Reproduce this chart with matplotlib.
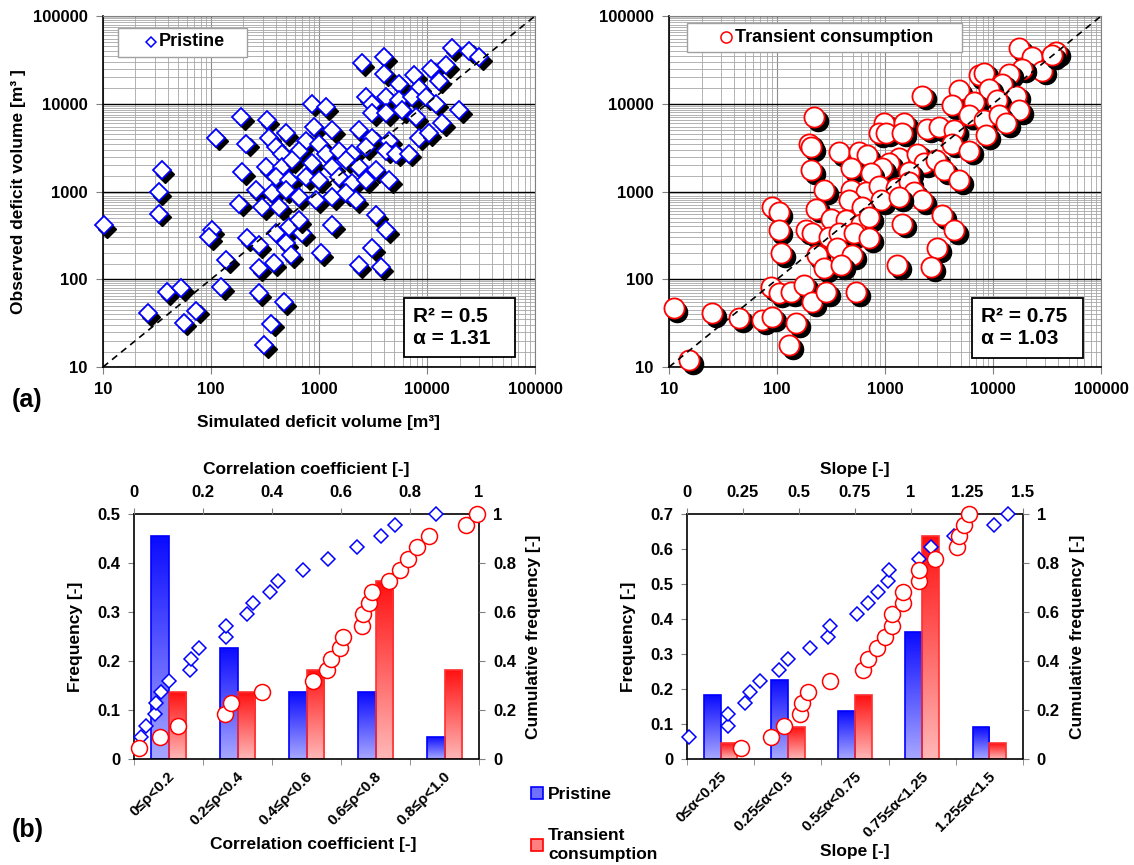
import matplotlib
matplotlib.use("Agg")
import matplotlib.pyplot as plt
import matplotlib.transforms as mtransforms
from matplotlib.colors import LinearSegmentedColormap
from matplotlib.patches import Patch, Rectangle
from matplotlib.ticker import LogLocator, NullFormatter, FuncFormatter, FixedLocator
import numpy as np

plt.rcParams['font.family'] = ['Liberation Sans', 'DejaVu Sans']
plt.rcParams['font.weight'] = 'bold'
plt.rcParams['axes.labelweight'] = 'bold'

# ---- (a) simulated vs observed deficit volumes [m3] ----
sim_pristine = [17000, 24500, 30300, 2500, 4000, 4000, 5500, 7600, 10900, 15000,
                8400, 12900, 2700, 3100, 4200, 5500, 7300, 9800, 12100, 19800,
                860, 1160, 3100, 4200, 5900, 7900, 13800, 190, 330, 111,
                211, 494, 344, 900, 1320, 2340, 3100, 4450, 8400, 10400,
                760, 1000, 400, 454, 650, 1160, 1530, 2020, 2700, 4200,
                5200, 6800, 35, 194, 323, 454, 560, 860, 1320, 1780,
                2340, 3370, 4450, 400, 530, 760, 1000, 1530, 2020, 2700,
                33, 261, 367, 494, 650, 940, 1320, 1780, 2200, 182,
                297, 427, 33, 10.2, 3370, 4200, 1320, 102, 96, 215,
                278, 400, 530, 700, 494, 650, 1040, 3100, 550, 383,
                278, 138, 2340, 3750, 124, 278, 474, 39, 53, 73,
                26, 56, 360, 310]
obs_pristine = [42700, 40400, 33700, 28800, 33700, 22100, 17000, 21000, 25200, 27300,
                15300, 18400, 11800, 10000, 11800, 10900, 11800, 11800, 10000, 8400,
                10000, 9100, 7800, 7800, 8400, 7000, 6000, 7000, 6500, 4100,
                3500, 4600, 4100, 5400, 5000, 5000, 4100, 3800, 4100, 4600,
                3800, 3500, 3200, 2700, 2900, 2700, 2900, 2700, 3200, 2900,
                2700, 2700, 1740, 1650, 1880, 1880, 2260, 2090, 1880, 2260,
                1880, 1740, 1340, 1450, 1340, 1450, 1340, 1450, 1240, 1340,
                980, 1030, 950, 1030, 860, 790, 860, 950, 790, 730,
                660, 660, 560, 410, 535, 360, 410, 360, 300, 292,
                243, 333, 390, 333, 256, 470, 197, 225, 187, 152,
                133, 164, 144, 137, 81, 69, 55, 71, 79, 44,
                41, 32, 31, 17.7]

sim_transient = [17400, 23000, 28400, 38300, 35200, 18600, 7400, 8300, 14100, 12100,
                 9200, 16300, 4800, 2200, 4200, 6700, 10900, 17400, 6000, 8300,
                 11400, 13200, 220, 198, 207, 207, 980, 1500, 880, 1020,
                 1440, 2450, 3160, 4350, 8600, 4200, 6000, 375, 574, 680,
                 1350, 1980, 1090, 940, 2300, 2970, 484, 740, 1670, 3520,
                 4840, 272, 484, 667, 880, 1260, 1670, 1860, 2200, 920,
                 1350, 464, 610, 90, 104, 230, 316, 435, 600, 710,
                 1440, 3370, 4350, 104, 186, 211, 303, 375, 516, 710,
                 109, 234, 360, 494, 272, 392, 3030, 1290, 2670, 88,
                 104, 135, 178, 211, 285, 540, 11.1, 25, 44.5, 73,
                 90, 150, 129, 15.3]
obs_transient = [42700, 33700, 23900, 38400, 35500, 25200, 21000, 22700, 22100, 17000,
                 14900, 12400, 14200, 12400, 9600, 10400, 10900, 8400, 7400, 6500,
                 7400, 6000, 7000, 3500, 3200, 1740, 6100, 6000, 4600, 4700,
                 4700, 5200, 5400, 5000, 4350, 3500, 2900, 2790, 2790, 2580,
                 2440, 2700, 2090, 1830, 2090, 2260, 1830, 1610, 1650, 1740,
                 1340, 1030, 1030, 980, 1170, 1110, 1270, 980, 790, 790,
                 860, 790, 660, 660, 580, 640, 490, 470, 430, 510,
                 430, 535, 360, 360, 360, 333, 300, 333, 333, 292,
                 197, 187, 225, 187, 133, 144, 225, 144, 137, 81,
                 69, 71, 85, 55, 71, 71, 47, 41, 36, 34,
                 37, 31.5, 17.7, 11.9]

stats_pristine = "R² = 0.5\nα = 1.31"
stats_transient = "R² = 0.75\nα = 1.03"

# ---- (b) frequency distributions ----
rho_labels = ["0≤ρ<0.2", "0.2≤ρ<0.4", "0.4≤ρ<0.6", "0.6≤ρ<0.8", "0.8≤ρ<1.0"]
rho_freq_pristine = [0.455, 0.227, 0.136, 0.136, 0.045]
rho_freq_transient = [0.136, 0.136, 0.182, 0.364, 0.182]

rho_cum_pristine_x = [0.019, 0.034, 0.062, 0.065, 0.079, 0.10, 0.162, 0.166, 0.187, 0.266,
                      0.268, 0.328, 0.346, 0.393, 0.418, 0.491, 0.561, 0.647, 0.717, 0.756,
                      0.875]
rho_cum_pristine_y = [0.091, 0.136, 0.182, 0.227, 0.273, 0.318, 0.364, 0.409, 0.455, 0.5,
                      0.545, 0.591, 0.636, 0.682, 0.727, 0.773, 0.818, 0.864, 0.909, 0.955,
                      1.0]
rho_cum_transient_x = [0.014, 0.076, 0.128, 0.263, 0.281, 0.370, 0.520, 0.559, 0.572, 0.598,
                       0.605, 0.660, 0.665, 0.680, 0.689, 0.738, 0.772, 0.795, 0.821, 0.855,
                       0.962, 0.993]
rho_cum_transient_y = [0.045, 0.091, 0.136, 0.182, 0.227, 0.273, 0.318, 0.364, 0.409, 0.455,
                       0.5, 0.545, 0.591, 0.636, 0.682, 0.727, 0.773, 0.818, 0.864, 0.909,
                       0.955, 1.0]

alpha_labels = ["0≤α<0.25", "0.25≤α<0.5", "0.5≤α<0.75", "0.75≤α<1.25", "1.25≤α<1.5"]
alpha_freq_pristine = [0.182, 0.227, 0.136, 0.364, 0.091]
alpha_freq_transient = [0.045, 0.091, 0.182, 0.636, 0.045]

alpha_cum_pristine_x = [0.009, 0.183, 0.183, 0.259, 0.283, 0.327, 0.411, 0.453, 0.549, 0.628,
                        0.640, 0.758, 0.808, 0.852, 0.898, 0.902, 1.035, 1.088, 1.191, 1.371,
                        1.432]
alpha_cum_pristine_y = rho_cum_pristine_y
alpha_cum_transient_x = [0.243, 0.374, 0.431, 0.505, 0.514, 0.542, 0.639, 0.788, 0.808, 0.849,
                         0.882, 0.914, 0.917, 0.963, 0.966, 1.035, 1.036, 1.108, 1.206, 1.214,
                         1.237, 1.257]
alpha_cum_transient_y = rho_cum_transient_y

BLUE = '#0000FF'
RED = '#FF0000'

fig = plt.figure(figsize=(11.34, 8.65), dpi=100)


def scatter_panel(rect, xs, ys, marker, ms, ecol, label, stats, leg_box, leg_mark, leg_ms,
                  stats_box, stats_xy):
    ax = fig.add_axes(rect)
    ax.set_xscale('log')
    ax.set_yscale('log')
    ax.set_xlim(10, 100000)
    ax.set_ylim(10, 100000)
    ax.xaxis.set_major_locator(LogLocator(base=10, numticks=10))
    ax.yaxis.set_major_locator(LogLocator(base=10, numticks=10))
    ax.xaxis.set_minor_locator(LogLocator(base=10, subs=np.arange(2, 10), numticks=100))
    ax.yaxis.set_minor_locator(LogLocator(base=10, subs=np.arange(1.5, 10, 0.5), numticks=100))
    ax.xaxis.set_minor_formatter(NullFormatter())
    ax.yaxis.set_minor_formatter(NullFormatter())
    ax.xaxis.set_major_formatter(FuncFormatter(lambda v, p: '%d' % round(v)))
    ax.yaxis.set_major_formatter(FuncFormatter(lambda v, p: '%d' % round(v)))
    ax.grid(True, which='minor', color='#a6a6a6', lw=0.6)
    ax.grid(True, which='major', axis='x', color='#8c8c8c', lw=0.8)
    ax.grid(True, which='major', axis='y', color='black', lw=1.0)
    ax.set_axisbelow(True)
    ax.tick_params(which='minor', length=0)
    ax.tick_params(which='major', length=5, color='#808080', labelsize=12, pad=6)
    for s in ['top', 'right']:
        ax.spines[s].set_color('#808080')
    for s in ['left', 'bottom']:
        ax.spines[s].set_color('black')
        ax.spines[s].set_linewidth(1.2)

    shadow = mtransforms.offset_copy(ax.transData, fig=fig, x=3.5, y=-3.5, units='dots')
    for i, (x, y) in enumerate(zip(xs, ys)):
        ax.plot(x, y, marker=marker, ms=ms, ls='', mfc='black', mec='black',
                transform=shadow, zorder=3 + 2 * i, clip_on=False)
        ax.plot(x, y, marker=marker, ms=ms, ls='', mfc='white', mec=ecol, mew=1.3,
                zorder=4 + 2 * i, clip_on=False)
    ax.plot([10, 100000], [10, 100000], ls=(0, (4, 3)), color='black', lw=1.2, zorder=1000)

    # legend box
    x0, y0, x1, y1 = leg_box
    ax.add_patch(Rectangle((x0, y0), x1 - x0, y1 - y0, transform=ax.transAxes, fc='white',
                           ec='#a0a0a0', lw=1.0, zorder=1100, clip_on=False))
    ax.plot([leg_mark[0]], [leg_mark[1]], marker=marker, ms=leg_ms, ls='', mfc='white',
            mec=ecol, mew=1.1, transform=ax.transAxes, zorder=1101, clip_on=False)
    ax.text(leg_mark[2], leg_mark[1], label, transform=ax.transAxes, fontsize=13,
            fontweight='bold', va='center', ha='left', zorder=1101)

    # statistics box
    x0, y0, x1, y1 = stats_box
    ax.add_patch(Rectangle((x0, y0), x1 - x0, y1 - y0, transform=ax.transAxes, fc='white',
                           ec='black', lw=1.3, zorder=1100))
    ax.text(stats_xy[0], stats_xy[1], stats, transform=ax.transAxes, fontsize=15,
            fontweight='bold', va='center', ha='left', linespacing=1.2, zorder=1101)
    return ax


ax_a1 = scatter_panel([0.0908, 0.5757, 0.381, 0.4058], sim_pristine, obs_pristine, 'D', 9.5,
                      BLUE, 'Pristine', stats_pristine,
                      (0.035, 0.883, 0.333, 0.966), (0.111, 0.926, 0.130), 4.8,
                      (0.697, 0.028, 0.954, 0.197), (0.718, 0.114))
ax_a1.set_xlabel('Simulated deficit volume [m³]', fontsize=12.5, labelpad=13)
ax_a1.set_ylabel('Observed deficit volume [m³ ]', fontsize=12.5, labelpad=5)

ax_a2 = scatter_panel([0.590, 0.5757, 0.381, 0.4058], sim_transient, obs_transient, 'o', 14.5,
                      RED, 'Transient consumption', stats_transient,
                      (0.042, 0.897, 0.678, 0.980), (0.132, 0.940, 0.153), 8,
                      (0.701, 0.026, 0.958, 0.197), (0.722, 0.113))

fig.text(12 / 1134, 1 - 400 / 865, '(a)', fontsize=18, fontweight='bold', va='center')
fig.text(12 / 1134, 1 - 830 / 865, '(b)', fontsize=18, fontweight='bold', va='center')


def add_gradient(ax, bars, c_top, c_bot):
    cmap = LinearSegmentedColormap.from_list('g', [c_bot, c_top])
    grad = np.linspace(0, 1, 256).reshape(-1, 1)
    for b in bars:
        x0, y0 = b.get_x(), b.get_y()
        w, hgt = b.get_width(), b.get_height()
        im = ax.imshow(grad, extent=[x0, x0 + w, y0, y0 + hgt], origin='lower',
                       aspect='auto', cmap=cmap, zorder=1.5, interpolation='bilinear')
        im.set_clip_path(b)


def freq_panel(rect, labels, fp, ft, ymax, cpx, cpy, ctx, cty, top_max, top_ticks,
               top_label, bottom_label, blabel_xy):
    ax = fig.add_axes(rect)
    idx = np.arange(len(labels))
    bp = ax.bar(idx - 0.125, fp, width=0.25, facecolor='none', edgecolor=BLUE, lw=1.2, zorder=2)
    bt = ax.bar(idx + 0.125, ft, width=0.25, facecolor='none', edgecolor='#FF3030', lw=1.2, zorder=2)
    add_gradient(ax, bp, '#0a0aff', '#a8a8ff')
    add_gradient(ax, bt, '#ff1010', '#ffb8b8')
    ax.set_xlim(-0.5, len(labels) - 0.5)
    ax.set_ylim(0, ymax)
    ax.set_yticks(np.arange(0, ymax + 0.001, 0.1))
    ax.yaxis.set_major_formatter(FuncFormatter(lambda v, p: '%g' % round(v, 2)))
    ax.set_xticks(idx + 0.06)
    ax.set_xticklabels(labels, rotation=45, ha='right', va='center', rotation_mode='anchor')
    ax.xaxis.set_minor_locator(FixedLocator(np.arange(-0.5, len(labels), 1.0)))
    ax.tick_params(axis='x', which='major', length=0, pad=11, labelsize=11)
    ax.tick_params(axis='x', which='minor', length=4, color='#808080')
    ax.tick_params(axis='y', length=4, color='#808080', labelsize=12, pad=6)
    ax.set_ylabel('Frequency [-]', fontsize=12.5, labelpad=10)
    ax.set_xlabel(bottom_label, fontsize=12.5)
    ax.xaxis.set_label_coords(*blabel_xy)
    for s in ax.spines.values():
        s.set_linewidth(1.2)

    ax2 = fig.add_axes(rect, frameon=False)
    ax2.patch.set_alpha(0)
    ax2.plot(cpx, cpy, ls='', marker='D', ms=7.5, mfc='white', mec=BLUE, mew=1.1, clip_on=False, zorder=5)
    ax2.plot(ctx, cty, ls='', marker='o', ms=11.5, mfc='white', mec=RED, mew=1.1, clip_on=False, zorder=6)
    ax2.set_xlim(0, top_max)
    ax2.set_ylim(0, 1)
    ax2.set_xticks(top_ticks)
    ax2.set_yticks(np.arange(0, 1.01, 0.2))
    ax2.xaxis.set_major_formatter(FuncFormatter(lambda v, p: '%g' % round(v, 2)))
    ax2.yaxis.set_major_formatter(FuncFormatter(lambda v, p: '%g' % round(v, 2)))
    ax2.xaxis.tick_top()
    ax2.yaxis.tick_right()
    ax2.xaxis.set_label_position('top')
    ax2.yaxis.set_label_position('right')
    ax2.tick_params(length=4, color='#808080', labelsize=12, pad=6)
    ax2.set_xlabel(top_label, fontsize=12.5, labelpad=8)
    ax2.set_ylabel('Cumulative frequency [-]', fontsize=12.5, labelpad=7)
    return ax, ax2


freq_panel([0.1182, 0.1225, 0.3042, 0.2832], rho_labels, rho_freq_pristine, rho_freq_transient,
           0.5, rho_cum_pristine_x, rho_cum_pristine_y, rho_cum_transient_x, rho_cum_transient_y,
           1.0, np.arange(0, 1.01, 0.2), 'Correlation coefficient [-]', 'Correlation coefficient [-]',
           (0.52, -0.32))
freq_panel([0.6058, 0.1225, 0.2963, 0.2832], alpha_labels, alpha_freq_pristine, alpha_freq_transient,
           0.7, alpha_cum_pristine_x, alpha_cum_pristine_y, alpha_cum_transient_x, alpha_cum_transient_y,
           1.5, np.arange(0, 1.51, 0.25), 'Slope [-]', 'Slope [-]', (0.5, -0.345))

handles = [Patch(facecolor='#7070ff', edgecolor=BLUE, lw=1.2),
           Patch(facecolor='#ff8080', edgecolor=RED, lw=1.2)]
leg = fig.legend(handles, ['Pristine', 'Transient\nconsumption'], loc='upper left',
                 bbox_to_anchor=(515 / 1134, 1 - 771 / 865), frameon=False,
                 prop={'size': 12.5, 'weight': 'bold'}, handlelength=0.7, handleheight=0.7,
                 handletextpad=0.3, labelspacing=1.5)
leg.get_texts()[1].set_linespacing(1.35)

fig.savefig('out.png', dpi=100)
